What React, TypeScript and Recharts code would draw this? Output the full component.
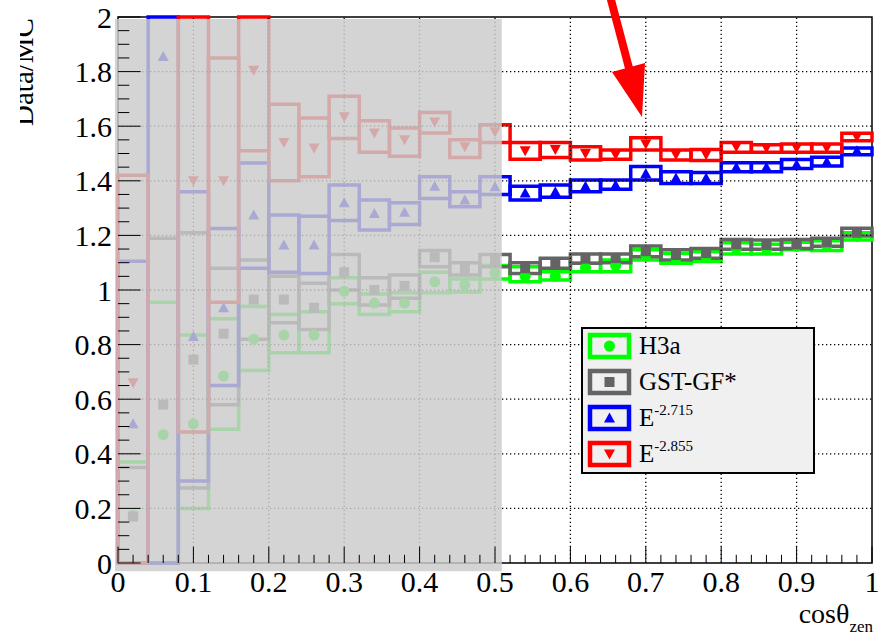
import React from 'react';
import { ComposedChart, XAxis, YAxis, Scatter, ReferenceArea, ReferenceLine, Legend } from 'recharts';

// ---------- data ----------
const binCenters = [0.02, 0.06, 0.1, 0.14, 0.18, 0.22, 0.26, 0.3, 0.34, 0.38, 0.42, 0.46, 0.5,
  0.54, 0.58, 0.62, 0.66, 0.7, 0.74, 0.78, 0.82, 0.86, 0.9, 0.94, 0.98];
const BIN_HALF = 0.02;

const h3aVal = [0.175, 0.47, 0.51, 0.685, 0.82, 0.835, 0.835, 0.995, 0.952, 0.952, 1.03, 1.018, 1.062,
  1.05, 1.05, 1.082, 1.09, 1.128, 1.116, 1.122, 1.152, 1.15, 1.16, 1.163, 1.197];
const h3aLo = [0, 0, 0.2, 0.49, 0.705, 0.77, 0.77, 0.95, 0.91, 0.92, 0.99, 0.993, 1.04,
  1.03, 1.037, 1.067, 1.067, 1.11, 1.098, 1.104, 1.132, 1.132, 1.147, 1.145, 1.183];
const h3aHi = [0.37, 0.955, 0.835, 0.895, 0.94, 0.91, 0.92, 1.045, 0.985, 0.99, 1.065, 1.04, 1.09,
  1.085, 1.067, 1.098, 1.11, 1.147, 1.134, 1.14, 1.173, 1.168, 1.175, 1.18, 1.21];

const gstVal = [0.17, 0.58, 0.745, 0.84, 0.965, 0.965, 0.935, 1.065, 1.0, 1.015, 1.12, 1.077, 1.11,
  1.08, 1.098, 1.115, 1.117, 1.142, 1.128, 1.135, 1.167, 1.165, 1.167, 1.175, 1.21];
const gstLo = [0, 0, 0.275, 0.58, 0.82, 0.88, 0.855, 1.0, 0.945, 0.97, 1.085, 1.055, 1.085,
  1.06, 1.08, 1.098, 1.1, 1.122, 1.11, 1.116, 1.149, 1.149, 1.152, 1.16, 1.198];
const gstHi = [0.35, 1.19, 1.21, 1.08, 1.11, 1.05, 1.025, 1.13, 1.045, 1.055, 1.145, 1.1, 1.13,
  1.1, 1.116, 1.132, 1.132, 1.161, 1.147, 1.152, 1.185, 1.183, 1.185, 1.19, 1.226];

const e2715Val = [0.51, 1.855, 0.83, 0.935, 1.275, 1.165, 1.165, 1.32, 1.28, 1.285, 1.38, 1.33, 1.378,
  1.355, 1.36, 1.38, 1.385, 1.427, 1.41, 1.41, 1.45, 1.45, 1.46, 1.47, 1.51];
const e2715Lo = [0, 0, 0.3, 0.65, 1.08, 1.065, 1.06, 1.255, 1.22, 1.24, 1.335, 1.305, 1.35,
  1.33, 1.34, 1.36, 1.369, 1.403, 1.39, 1.39, 1.433, 1.433, 1.445, 1.454, 1.495];
const e2715Hi = [1.105, 2.0, 1.36, 1.225, 1.465, 1.275, 1.27, 1.385, 1.33, 1.32, 1.415, 1.36, 1.415,
  1.38, 1.385, 1.403, 1.403, 1.452, 1.433, 1.43, 1.466, 1.466, 1.478, 1.486, 1.52];

const e2855Val = [0.66, null, 1.4, 1.4, 1.805, 1.54, 1.52, 1.635, 1.575, 1.55, 1.615, 1.525, 1.58,
  1.51, 1.515, 1.5, 1.495, 1.535, 1.495, 1.495, 1.525, 1.52, 1.52, 1.52, 1.56];
const e2855Lo = [0, null, 0.48, 0.955, 1.51, 1.4, 1.415, 1.555, 1.505, 1.49, 1.575, 1.485, 1.54,
  1.479, 1.485, 1.476, 1.479, 1.513, 1.476, 1.474, 1.505, 1.505, 1.505, 1.505, 1.547];
const e2855Hi = [1.42, null, 2.0, 1.85, 2.0, 1.68, 1.63, 1.71, 1.62, 1.593, 1.65, 1.55, 1.605,
  1.54, 1.54, 1.525, 1.513, 1.558, 1.513, 1.515, 1.54, 1.532, 1.535, 1.535, 1.574];

const xTickLabels = ['0', '0.1', '0.2', '0.3', '0.4', '0.5', '0.6', '0.7', '0.8', '0.9', '1'];
const yTickLabels = ['0', '0.2', '0.4', '0.6', '0.8', '1', '1.2', '1.4', '1.6', '1.8', '2'];
const xGrid = [0.1, 0.2, 0.3, 0.4, 0.5, 0.6, 0.7, 0.8, 0.9];
const yGrid = [0.2, 0.4, 0.6, 0.8, 1.0, 1.2, 1.4, 1.6, 1.8];
const xAllTicks = Array.from({ length: 51 }, (_, i) => Number((i * 0.02).toFixed(2)));
const yAllTicks = Array.from({ length: 41 }, (_, i) => Number((i * 0.05).toFixed(2)));
const shadedRange = { x1: -0.004, x2: 0.509, y1: -0.03, y2: 1.993 };

type Series = { name: string; sup?: string; color: string; kind: string; val: (number | null)[]; lo: (number | null)[]; hi: (number | null)[] };
const series: Series[] = [
  { name: 'H3a', color: '#00ff00', kind: 'circle', val: h3aVal, lo: h3aLo, hi: h3aHi },
  { name: 'GST-GF*', color: '#646464', kind: 'square', val: gstVal, lo: gstLo, hi: gstHi },
  { name: 'E', sup: '-2.715', color: '#0000ff', kind: 'up', val: e2715Val, lo: e2715Lo, hi: e2715Hi },
  { name: 'E', sup: '-2.855', color: '#ff0000', kind: 'down', val: e2855Val, lo: e2855Lo, hi: e2855Hi },
];

const FONT = '"Liberation Serif", "DejaVu Serif", serif';

const Marker = ({ cx, cy, color, kind }: any) => {
  if (cx == null || cy == null) return null;
  if (kind === 'circle') return <circle cx={cx} cy={cy} r={5.5} fill={color} />;
  if (kind === 'square') return <rect x={cx - 5} y={cy - 5} width={10} height={10} fill={color} />;
  if (kind === 'up') return <polygon points={`${cx},${cy - 5.5} ${cx - 5.5},${cy + 4.5} ${cx + 5.5},${cy + 4.5}`} fill={color} />;
  return <polygon points={`${cx},${cy + 5.5} ${cx - 5.5},${cy - 4.5} ${cx + 5.5},${cy - 4.5}`} fill={color} />;
};

const isMajor = (v: number, step: number) => Math.abs(v / step - Math.round(v / step)) < 1e-6;

const XTick = (props: any) => {
  const { x, y, payload } = props;
  const v = payload.value;
  const major = isMajor(v, 0.1);
  const idx = Math.round(v / 0.1);
  return (
    <g>
      <line x1={x} x2={x} y1={y} y2={y - (major ? 16.4 : 8.2)} stroke="#000" strokeWidth={1} />
      {major && (
        <text x={x} y={y + 29} textAnchor="middle" fontFamily={FONT} fontSize={30} fill="#000">
          {xTickLabels[idx]}
        </text>
      )}
    </g>
  );
};

const YTick = (props: any) => {
  const { x, y, payload } = props;
  const v = payload.value;
  const major = isMajor(v, 0.2);
  const idx = Math.round(v / 0.2);
  return (
    <g>
      <line x1={x} x2={x + (major ? 22.6 : 11.3)} y1={y} y2={y} stroke="#000" strokeWidth={1} />
      {major && (
        <text x={x - 6} y={y + 10.5} textAnchor="end" fontFamily={FONT} fontSize={30} fill="#000">
          {yTickLabels[idx]}
        </text>
      )}
    </g>
  );
};

const LegendBox = () => {
  const centers = [19, 55, 91, 127];
  return (
    <div style={{ width: 234, height: 147, boxSizing: 'border-box', border: '2px solid #000', background: '#f0f0f0' }}>
      <svg width={230} height={143} style={{ display: 'block' }}>
        {series.map((s, i) => {
          const c = centers[i] - 2;
          return (
            <g key={i}>
              <rect x={7} y={c - 11} width={39} height={22} fill="none" stroke={s.color} strokeWidth={4.5} />
              <Marker cx={26.5} cy={c} color={s.color} kind={s.kind} />
              <text x={56} y={c + 8} fontFamily={FONT} fontSize={25} fill="#000">
                {s.name}
                {s.sup && (
                  <tspan fontSize={15} dy={-11}>{s.sup}</tspan>
                )}
              </text>
            </g>
          );
        })}
      </svg>
    </div>
  );
};

export default function App() {
  return (
    <div style={{ position: 'absolute', left: 0, top: 0, width: 883, height: 637, background: '#fff' }}>
      <ComposedChart width={883} height={637} margin={{ top: 17, right: 11, bottom: 0, left: 0 }}>
        <XAxis type="number" dataKey="x" domain={[0, 1]} ticks={xAllTicks} interval={0} allowDataOverflow
          tick={<XTick />} tickLine={false} tickSize={0} tickMargin={0} height={74} axisLine={false} />
        <YAxis type="number" domain={[0, 2]} ticks={yAllTicks} interval={0} allowDataOverflow
          tick={<YTick />} tickLine={false} tickSize={0} tickMargin={0} width={118} axisLine={false} />
        {xGrid.map((v) => (
          <ReferenceLine key={'gx' + v} x={v} stroke="#000" strokeWidth={1.3} strokeDasharray="1.3 2.7" />
        ))}
        {yGrid.map((v) => (
          <ReferenceLine key={'gy' + v} y={v} stroke="#000" strokeWidth={1.3} strokeDasharray="1.3 2.7" />
        ))}
        <ReferenceArea x1={0} x2={1} y1={0} y2={2} fill="none" stroke="#000" strokeWidth={1.5} ifOverflow="visible" />
        {series.flatMap((s, si) =>
          binCenters.map((c, i) =>
            s.lo[i] == null || s.hi[i] == null ? null : (
              <ReferenceArea key={`b${si}-${i}`} x1={c - BIN_HALF} x2={c + BIN_HALF} y1={s.lo[i] as number} y2={s.hi[i] as number}
                fill="none" fillOpacity={0} stroke={s.color} strokeWidth={3.5} ifOverflow="visible" />
            )
          )
        )}
        {series.map((s, si) => (
          <Scatter key={'s' + si} name={s.name} isAnimationActive={false}
            data={binCenters.map((x, i) => ({ x, y: s.val[i] })).filter((p) => p.y != null)}
            dataKey="y" fill={s.color}
            shape={(p: any) => <Marker cx={p.cx} cy={p.cy} color={s.color} kind={s.kind} />} />
        ))}
        <ReferenceArea x1={shadedRange.x1} x2={shadedRange.x2} y1={shadedRange.y1} y2={shadedRange.y2}
          fill="#cbcbcb" fillOpacity={0.83} stroke="none" ifOverflow="visible" zIndex={1500} />
        <Legend layout="vertical" align="center" verticalAlign="middle" width={234} height={147}
          wrapperStyle={{ left: 581, top: 327, width: 234, height: 147 }} content={() => <LegendBox />} />
      </ComposedChart>
      <svg width={883} height={637} style={{ position: 'absolute', left: 0, top: 0, pointerEvents: 'none' }}>
        <defs>
          <clipPath id="ytitleclip">
            <rect x={20} y={0} width={60} height={200} />
          </clipPath>
        </defs>
        <g clipPath="url(#ytitleclip)">
          <text transform="translate(33,72) rotate(-90)" textAnchor="middle" fontFamily={FONT} fontSize={29} fill="#000">Data/MC</text>
        </g>
        <text x={873} y={623} textAnchor="end" fontFamily={FONT} fontSize={28} fill="#000">
          cosθ<tspan fontSize={17} dy={9}>zen</tspan>
        </text>
        <line x1={610} y1={-4} x2={629} y2={68} stroke="#ff0000" strokeWidth={8} />
        <polygon points="612,72 645,63 642,117" fill="#ff0000" />
      </svg>
    </div>
  );
}
